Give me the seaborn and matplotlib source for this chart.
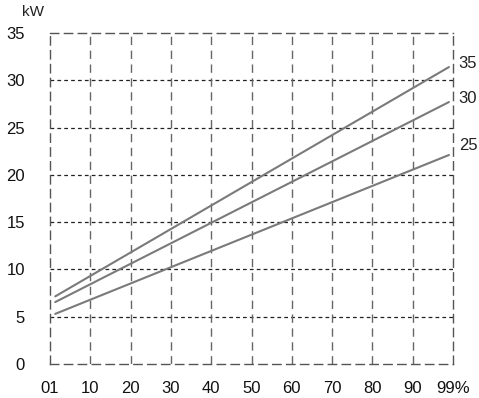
import matplotlib
matplotlib.use("Agg")
import matplotlib.pyplot as plt
import seaborn as sns
import pandas as pd

# Data
x_pos = [1.3, 99.0]
line_35 = [7.15, 31.4]
line_30 = [6.55, 27.7]
line_25 = [5.3, 22.1]
series_names = ["35", "30", "25"]
xtick_vals = [0, 10, 20, 30, 40, 50, 60, 70, 80, 90, 100]
xtick_labels = ["01", "10", "20", "30", "40", "50", "60", "70", "80", "90", "99%"]
ytick_vals = [0, 5, 10, 15, 20, 25, 30, 35]

df = pd.DataFrame({
    "x": x_pos * 3,
    "kW": line_35 + line_30 + line_25,
    "s": [n for n in series_names for _ in x_pos],
})

sns.set_theme(style="white")
plt.rcParams["font.family"] = ["Liberation Sans", "DejaVu Sans"]

fig = plt.figure(figsize=(4.79, 3.98), dpi=100)
ax = fig.add_axes([50/479, 1-364/398, (453-50)/479, (364-33)/398])

sns.lineplot(data=df, x="x", y="kW", hue="s",
             palette={"35": "#7a7a7a", "30": "#7a7a7a", "25": "#7a7a7a"},
             linewidth=1.5, legend=False, ax=ax)

ax.set_xlim(0, 100)
ax.set_ylim(0, 35)
ax.set_xticks(xtick_vals)
ax.set_xticklabels(xtick_labels, fontsize=12, color="#111111")
ax.set_yticks(ytick_vals)
ax.set_yticklabels([str(v) for v in ytick_vals], fontsize=12, color="#111111")
ax.set_xlabel("")
ax.set_ylabel("")
ax.tick_params(axis="x", length=0, pad=12)
ax.tick_params(axis="y", length=0, pad=18)

for v in ytick_vals[1:-1]:
    ax.axhline(v, color="#222222", linewidth=0.9, linestyle=(0, (3, 2.5)), zorder=0)
for v in xtick_vals[1:-1]:
    ax.axvline(v, color="#666666", linewidth=1.0, linestyle=(0, (6, 4)), zorder=0)

for sp in ax.spines.values():
    sp.set_linestyle((0, (6, 4)))
    sp.set_color("#555555")
    sp.set_linewidth(1.0)

label_offsets = [2.5, 2.5, 6.5]
for name, ys, dy in zip(series_names, [line_35, line_30, line_25], label_offsets):
    ax.annotate(name, xy=(x_pos[-1], ys[-1]), xytext=(7, dy), textcoords="offset points",
                fontsize=12, color="#222222", va="center", ha="left", annotation_clip=False)

fig.text(22/479, 1-12/398, "kW", fontsize=11, ha="left", va="center", color="#222222")

fig.savefig("out.png", dpi=100)
